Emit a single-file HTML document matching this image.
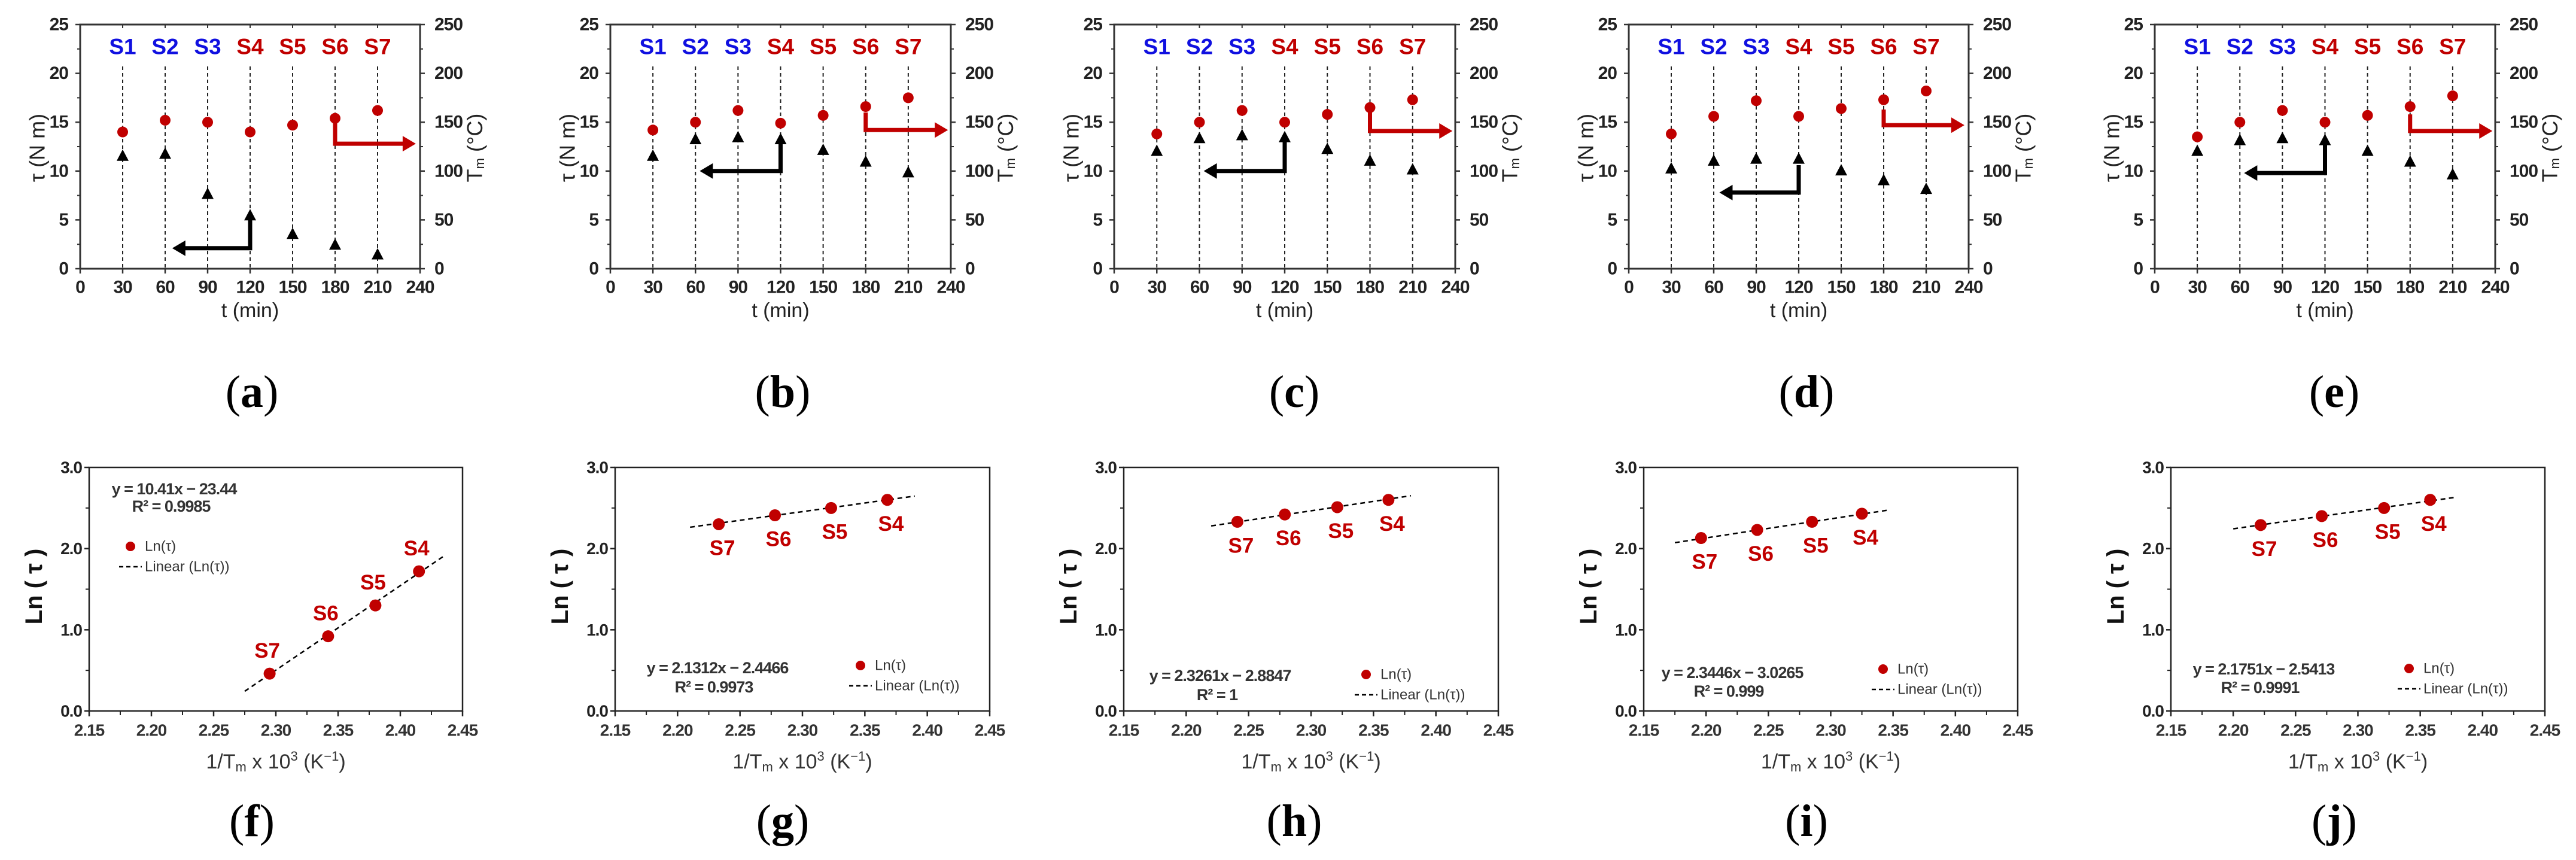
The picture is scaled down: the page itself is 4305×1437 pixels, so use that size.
<!DOCTYPE html>
<html><head><meta charset="utf-8"><style>
html,body{margin:0;padding:0;background:#fff;}
svg{display:block;font-family:"Liberation Sans",sans-serif;}
</style></head><body>
<svg id="fig" width="4305" height="1437" viewBox="0 0 4305 1437" xmlns="http://www.w3.org/2000/svg"></svg>
<script>
// ---------- data ----------
const timeCategories = [30, 60, 90, 120, 150, 180, 210];
const sampleLabels = ["S1","S2","S3","S4","S5","S6","S7"];
const xTicksTop = ["0","30","60","90","120","150","180","210","240"];
const yTicksLeft = ["0","5","10","15","20","25"];
const yTicksRight = ["0","50","100","150","200","250"];
const tmA = [140,152,150,140,147,154,162];
const tauA = [11.6,11.8,7.7,5.5,3.6,2.5,1.5];
const tmB = [142,150,162,149,157,166,175];
const tauB = [11.6,13.3,13.5,13.3,12.2,11.0,9.9];
const tmC = [138,150,162,150,158,165,173];
const tauC = [12.1,13.4,13.7,13.5,12.3,11.1,10.2];
const tmD = [138,156,172,156,164,173,182];
const tauD = [10.3,11.1,11.3,11.3,10.1,9.1,8.2];
const tmE = [135,150,162,150,157,166,177];
const tauE = [12.1,13.2,13.4,13.2,12.1,11.0,9.7];

const arrLabels = ["S7","S6","S5","S4"];
const xTicksBot = ["2.15","2.20","2.25","2.30","2.35","2.40","2.45"];
const yTicksBot = ["0.0","1.0","2.0","3.0"];
const invF = [2.295,2.342,2.380,2.415];
const lnF = [0.46,0.92,1.30,1.72];
const invG = [2.233,2.278,2.323,2.368];
const lnG = [2.30,2.41,2.50,2.60];
const invH = [2.241,2.279,2.321,2.362];
const lnH = [2.33,2.42,2.51,2.60];
const invI = [2.196,2.241,2.285,2.325];
const lnI = [2.13,2.23,2.33,2.43];
const invJ = [2.222,2.271,2.321,2.358];
const lnJ = [2.29,2.40,2.50,2.60];
const fitF = [10.41,-23.44], fitG=[2.1312,-2.4466], fitH=[2.3261,-2.8847], fitI=[2.3446,-3.0265], fitJ=[2.1751,-2.5413];
const eqText = ["y = 10.41x − 23.44","y = 2.1312x − 2.4466","y = 2.3261x − 2.8847","y = 2.3446x − 3.0265","y = 2.1751x − 2.5413"];
const r2Text = ["R² = 0.9985","R² = 0.9973","R² = 1","R² = 0.999","R² = 0.9991"];

// ---------- helpers ----------
const NS = "http://www.w3.org/2000/svg";
const svg = document.getElementById("fig");
function mk(tag, attrs, name, parent) {
  const el = document.createElementNS(NS, tag);
  for (const k in attrs) el.setAttribute(k, attrs[k]);
  
  
  (parent || svg).appendChild(el);
  return el;
}
function txt(x, y, s, attrs, name, parent) {
  const el = mk("text", Object.assign({x: x, y: y, "dominant-baseline": "central"}, attrs), name, parent);
  el.textContent = s;
  return el;
}
const RED = "#c00000", BLUE = "#1010e0", AX = "#333";

// ---------- top panels ----------
const topPanels = [
  {id:"a", x0:134, x1:702, tm:tmA, tau:tauA, bk:[5.5,2.1,65], rd:[15.4,12.8,237], lab:"a", lx:421},
  {id:"b", x0:1020, x1:1589, tm:tmB, tau:tauB, bk:[13.0,10.0,63], rd:[16.0,14.2,238], lab:"b", lx:1308},
  {id:"c", x0:1862, x1:2432, tm:tmC, tau:tauC, bk:[13.0,10.0,63], rd:[16.0,14.1,238], lab:"c", lx:2163},
  {id:"d", x0:2722, x1:3290, tm:tmD, tau:tauD, bk:[10.6,7.8,64], rd:[16.3,14.7,237], lab:"d", lx:3019},
  {id:"e", x0:3601, x1:4170, tm:tmE, tau:tauE, bk:[12.7,9.8,63], rd:[15.8,14.1,238], lab:"e", lx:3901}
];
const TY0 = 41, TY1 = 449;
topPanels.forEach(p => {
  const g = mk("g", {}, "panel-" + p.id);
  const sx = t => p.x0 + t / 240 * (p.x1 - p.x0);
  const syL = v => TY1 - v / 25 * (TY1 - TY0);
  const syR = v => TY1 - v / 250 * (TY1 - TY0);
  mk("rect", {x:p.x0, y:TY0, width:p.x1-p.x0, height:TY1-TY0, fill:"none", stroke:AX, "stroke-width":3}, "plot-frame", g);
  // left ticks
  yTicksLeft.forEach(s => {
    const v = +s, y = syL(v);
    mk("line", {x1:p.x0-8, y1:y, x2:p.x0, y2:y, stroke:AX, "stroke-width":2.5}, "y-tick", g);
    txt(p.x0-20, y, s, {"text-anchor":"end", "font-size":30, "font-weight":"bold", fill:"#222", "letter-spacing":-1}, "y-tick-label", g);
    if (v < 25) mk("line", {x1:p.x0-5, y1:syL(v+2.5), x2:p.x0, y2:syL(v+2.5), stroke:AX, "stroke-width":2}, "y-minor-tick", g);
  });
  yTicksRight.forEach(s => {
    const v = +s, y = syR(v);
    mk("line", {x1:p.x1, y1:y, x2:p.x1+8, y2:y, stroke:AX, "stroke-width":2.5}, "y2-tick", g);
    txt(p.x1+24, y, s, {"text-anchor":"start", "font-size":30, "font-weight":"bold", fill:"#222", "letter-spacing":-1}, "y2-tick-label", g);
    if (v < 250) mk("line", {x1:p.x1, y1:syR(v+25), x2:p.x1+5, y2:syR(v+25), stroke:AX, "stroke-width":2}, "y2-minor-tick", g);
  });
  xTicksTop.forEach(s => {
    const x = sx(+s);
    mk("line", {x1:x, y1:TY1, x2:x, y2:TY1+8, stroke:AX, "stroke-width":2.5}, "x-tick", g);
    mk("line", {x1:x, y1:TY0, x2:x, y2:TY0+6, stroke:AX, "stroke-width":2}, "x-top-tick", g);
    txt(x, 480, s, {"text-anchor":"middle", "font-size":30, "font-weight":"bold", fill:"#222", "letter-spacing":-1}, "x-tick-label", g);
  });
  txt((p.x0+p.x1)/2, 519, "t (min)", {"text-anchor":"middle", "font-size":34, fill:"#222"}, "x-axis-title", g);
  const lt = txt(p.x0-72, 247, "τ (N m)", {"text-anchor":"middle", "font-size":36, fill:"#222", transform:"rotate(-90 "+(p.x0-72)+" 247)"}, "y-axis-title", g);
  const rt = mk("text", {x:p.x1+91, y:247, "text-anchor":"middle", "dominant-baseline":"central", "font-size":36, fill:"#222", transform:"rotate(-90 "+(p.x1+91)+" 247)"}, "y2-axis-title", g);
  rt.innerHTML = 'T<tspan font-size="22" dy="8">m</tspan><tspan dy="-8"> (°C)</tspan>';
  timeCategories.forEach((t, i) => {
    const x = sx(t);
    mk("line", {x1:x, y1:111, x2:x, y2:TY1, stroke:"#222", "stroke-width":2, "stroke-dasharray":"6 5"}, "stage-guide-line", g);
    txt(x, 78, sampleLabels[i], {"text-anchor":"middle", "font-size":37, "font-weight":"bold", fill: i < 3 ? BLUE : RED}, "stage-label", g);
    const ty = syL(p.tau[i]);
    mk("polygon", {points:(x-10)+","+(ty+9)+" "+(x+10)+","+(ty+9)+" "+x+","+(ty-10), fill:"#000"}, "torque-marker", g);
    mk("circle", {cx:x, cy:syR(p.tm[i]), r:9, fill:RED}, "temperature-marker", g);
  });
  // black arrow (points to left axis)
  const bx = sx(120), by0 = syL(p.bk[0]), by1 = syL(p.bk[1]), bxe = sx(p.bk[2]);
  mk("path", {d:"M"+bx+" "+by0+" L"+bx+" "+by1+" L"+(bxe+14)+" "+by1, fill:"none", stroke:"#000", "stroke-width":7}, "torque-axis-arrow", g);
  mk("polygon", {points:bxe+","+by1+" "+(bxe+22)+","+(by1-13)+" "+(bxe+22)+","+(by1+13), fill:"#000"}, "torque-arrow-head", g);
  const rx = sx(180), ry0 = syL(p.rd[0]), ry1 = syL(p.rd[1]), rxe = sx(p.rd[2]);
  mk("path", {d:"M"+rx+" "+ry0+" L"+rx+" "+ry1+" L"+(rxe-14)+" "+ry1, fill:"none", stroke:RED, "stroke-width":7}, "temperature-axis-arrow", g);
  mk("polygon", {points:rxe+","+ry1+" "+(rxe-22)+","+(ry1-13)+" "+(rxe-22)+","+(ry1+13), fill:RED}, "temperature-arrow-head", g);
  const L = mk("text", {x:p.lx, y:655, "text-anchor":"middle", "dominant-baseline":"central", "font-family":"'Liberation Serif',serif", "font-size":76, fill:"#000"}, "panel-label", g);
  L.innerHTML = '(<tspan font-weight="bold">' + p.lab + '</tspan>)';
});

// ---------- bottom panels ----------
const botPanels = [
  {id:"f", x0:149, x1:773, inv:invF, ln:lnF, fit:fitF, xr:[2.275,2.435], k:0, eqx:142, eqy:817, r2x:137, r2y:846, lgx:69, lgy:913, below:false, lx:421},
  {id:"g", x0:1028, x1:1654, inv:invG, ln:lnG, fit:fitG, xr:[2.21,2.39], k:1, eqx:171, eqy:1116, r2x:165, r2y:1148, lgx:410, lgy:1112, below:true, lx:1308},
  {id:"h", x0:1878, x1:2504, inv:invH, ln:lnH, fit:fitH, xr:[2.22,2.38], k:2, eqx:161, eqy:1129, r2x:156, r2y:1161, lgx:405, lgy:1127, below:true, lx:2163},
  {id:"i", x0:2747, x1:3372, inv:invI, ln:lnI, fit:fitI, xr:[2.175,2.345], k:3, eqx:148, eqy:1124, r2x:142, r2y:1155, lgx:400, lgy:1118, below:true, lx:3019},
  {id:"j", x0:3628, x1:4253, inv:invJ, ln:lnJ, fit:fitJ, xr:[2.20,2.377], k:4, eqx:155, eqy:1118, r2x:149, r2y:1149, lgx:398, lgy:1117, below:true, lx:3901}
];
const BY0 = 781, BY1 = 1188;
botPanels.forEach(p => {
  const g = mk("g", {}, "panel-" + p.id);
  const sx = v => p.x0 + (v - 2.15) / 0.30 * (p.x1 - p.x0);
  const sy = v => BY1 - v / 3 * (BY1 - BY0);
  mk("rect", {x:p.x0, y:BY0, width:p.x1-p.x0, height:BY1-BY0, fill:"none", stroke:"#222", "stroke-width":2.5}, "plot-frame", g);
  yTicksBot.forEach(s => {
    const v = +s, y = sy(v);
    mk("line", {x1:p.x0-8, y1:y, x2:p.x0, y2:y, stroke:"#222", "stroke-width":2.5}, "y-tick", g);
    if (v < 3) mk("line", {x1:p.x0-6, y1:sy(v+0.5), x2:p.x0, y2:sy(v+0.5), stroke:"#222", "stroke-width":2}, "y-minor-tick", g);
    txt(p.x0-12, y, s, {"text-anchor":"end", "font-size":28, "font-weight":"bold", fill:"#222", "letter-spacing":-1}, "y-tick-label", g);
  });
  xTicksBot.forEach(s => {
    const v = +s, x = sx(v);
    mk("line", {x1:x, y1:BY1, x2:x, y2:BY1+9, stroke:"#222", "stroke-width":2.5}, "x-tick", g);
    if (v < 2.449) mk("line", {x1:sx(v+0.025), y1:BY1, x2:sx(v+0.025), y2:BY1+7, stroke:"#222", "stroke-width":2}, "x-minor-tick", g);
    txt(x, 1220, s, {"text-anchor":"middle", "font-size":28, "font-weight":"bold", fill:"#333", "letter-spacing":-1}, "x-tick-label", g);
  });
  const xt = mk("text", {x:(p.x0+p.x1)/2, y:1273, "text-anchor":"middle", "dominant-baseline":"central", "font-size":34, fill:"#333"}, "x-axis-title", g);
  xt.innerHTML = '1/T<tspan font-size="22" dy="8">m</tspan><tspan dy="-8"> x 10</tspan><tspan font-size="22" dy="-10">3</tspan><tspan dy="10"> (K</tspan><tspan font-size="22" dy="-10">−1</tspan><tspan dy="10">)</tspan>';
  txt(p.x0-92, 980, "Ln ( τ )", {"text-anchor":"middle", "font-size":40, "font-weight":"bold", fill:"#111", transform:"rotate(-90 "+(p.x0-92)+" 980)"}, "y-axis-title", g);
  // fit line
  mk("line", {x1:sx(p.xr[0]), y1:sy(p.fit[0]*p.xr[0]+p.fit[1]), x2:sx(p.xr[1]), y2:sy(p.fit[0]*p.xr[1]+p.fit[1]), stroke:"#000", "stroke-width":2.5, "stroke-dasharray":"8 6"}, "linear-fit-line", g);
  p.inv.forEach((v, i) => {
    const cx = sx(v), cy = sy(p.ln[i]);
    mk("circle", {cx:cx, cy:cy, r:10, fill:RED}, "ln-tau-point", g);
    txt(cx + (p.below ? 6 : -4), cy + (p.below ? 40 : -38), arrLabels[i], {"text-anchor":"middle", "font-size":35, "font-weight":"bold", fill:RED}, "point-label", g);
  });
  txt(p.x0+p.eqx, p.eqy, eqText[p.k], {"text-anchor":"middle", "font-size":27, "font-weight":"bold", fill:"#333", "letter-spacing":-1}, "fit-equation", g);
  txt(p.x0+p.r2x, p.r2y, r2Text[p.k], {"text-anchor":"middle", "font-size":27, "font-weight":"bold", fill:"#333", "letter-spacing":-1}, "r-squared", g);
  mk("circle", {cx:p.x0+p.lgx, cy:p.lgy, r:8, fill:RED}, "legend-marker", g);
  txt(p.x0+p.lgx+24, p.lgy, "Ln(τ)", {"font-size":24, fill:"#333"}, "legend-entry", g);
  mk("line", {x1:p.x0+p.lgx-19, y1:p.lgy+34, x2:p.x0+p.lgx+19, y2:p.lgy+34, stroke:"#000", "stroke-width":2.5, "stroke-dasharray":"7 5"}, "legend-line", g);
  txt(p.x0+p.lgx+24, p.lgy+34, "Linear (Ln(τ))", {"font-size":24, fill:"#333"}, "legend-entry", g);
  const L = mk("text", {x:p.lx, y:1372, "text-anchor":"middle", "dominant-baseline":"central", "font-family":"'Liberation Serif',serif", "font-size":76, fill:"#000"}, "panel-label", g);
  L.innerHTML = '(<tspan font-weight="bold">' + p.id + '</tspan>)';
});
</script>
</body></html>
